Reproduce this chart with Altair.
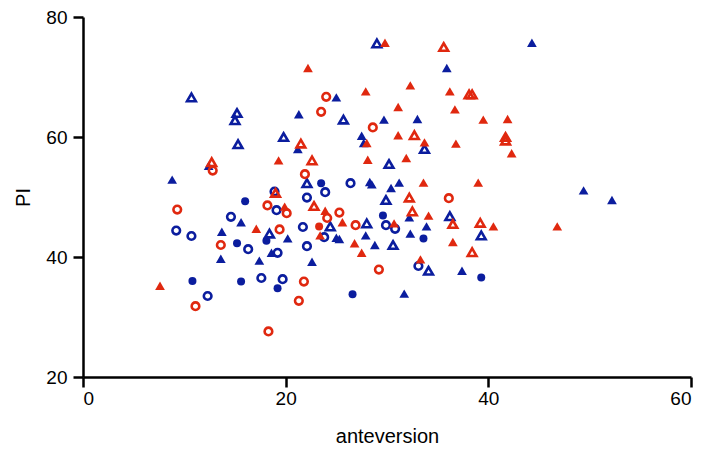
import altair as alt
import pandas as pd

# ---- data (anteversion, PI) ----
blue_filled_circle_x = [16.0, 23.5, 29.6, 15.2, 18.1, 10.8, 15.6, 19.2, 26.6, 33.6, 39.3]
blue_filled_circle_y = [49.3, 52.3, 46.9, 42.3, 42.7, 36.0, 35.9, 34.8, 33.8, 43.1, 36.6]

blue_open_circle_x = [9.2, 10.7, 14.6, 12.3, 18.9, 22.1, 23.9, 26.4, 19.1, 21.7, 23.8, 29.9, 30.8,
                      22.1, 19.2, 16.3, 17.6, 19.7, 33.1]
blue_open_circle_y = [44.4, 43.5, 46.7, 33.5, 50.9, 49.9, 50.8, 52.3, 47.8, 45.0, 43.3, 45.3, 44.7,
                      41.8, 40.7, 41.3, 36.5, 36.3, 38.5]

blue_filled_tri_x = [8.8, 12.4, 21.3, 25.0, 29.7, 27.5, 27.7, 21.2, 28.3, 28.5, 30.4, 35.9, 44.3,
                     33.0, 31.2, 49.4, 52.2, 13.7, 13.6, 25.0, 25.3, 27.9, 28.8, 22.6, 20.2, 18.6,
                     15.6, 17.4, 32.2, 33.9, 32.3, 37.4, 31.7]
blue_filled_tri_y = [52.9, 55.2, 63.8, 66.6, 62.9, 60.2, 59.0, 58.0, 52.5, 52.1, 51.5, 71.5, 75.7,
                     63.0, 52.4, 51.1, 49.5, 44.2, 39.7, 43.2, 43.0, 43.6, 42.0, 39.2, 43.1, 40.7,
                     45.8, 39.4, 46.6, 45.1, 43.9, 37.7, 33.9]

blue_open_tri_x = [10.7, 15.2, 15.0, 15.3, 29.0, 25.7, 19.8, 30.2, 22.1, 29.9, 33.7, 24.4, 28.0,
                   30.6, 18.4, 36.2, 39.3, 34.1]
blue_open_tri_y = [66.6, 64.0, 62.8, 58.8, 75.6, 62.9, 60.0, 55.5, 52.3, 49.5, 58.0, 45.1, 45.6,
                   42.0, 43.9, 46.8, 43.6, 37.7]

red_filled_circle_x = [23.3]
red_filled_circle_y = [45.1]

red_open_circle_x = [12.8, 24.0, 23.5, 28.6, 21.9, 18.2, 36.1, 9.3, 13.6, 11.1, 20.1, 25.3, 24.1,
                     26.9, 19.4, 21.8, 21.3, 29.2, 18.3]
red_open_circle_y = [54.4, 66.7, 64.2, 61.6, 53.8, 48.6, 49.8, 47.9, 42.0, 31.8, 47.3, 47.4, 46.5,
                     45.3, 44.6, 35.9, 32.7, 37.9, 27.6]

red_filled_tri_x = [29.8, 22.2, 27.9, 28.0, 19.3, 28.1, 32.3, 36.2, 31.1, 36.7, 39.5, 41.9, 31.1,
                    33.7, 36.8, 42.3, 31.9, 33.6, 39.0, 7.6, 19.9, 23.9, 25.6, 23.4, 30.7, 26.8,
                    27.5, 17.1, 34.1, 33.3, 40.5, 46.8, 36.5]
red_filled_tri_y = [75.7, 71.5, 67.6, 59.0, 56.1, 56.2, 68.6, 67.6, 65.0, 64.6, 62.9, 63.0, 60.3,
                    59.1, 58.9, 57.3, 56.5, 52.4, 52.4, 35.2, 48.4, 47.7, 45.8, 43.6, 45.6, 42.3,
                    40.7, 44.7, 46.9, 39.6, 45.1, 45.1, 42.5]

red_open_tri_x = [12.7, 21.5, 22.6, 19.0, 35.6, 38.1, 38.4, 32.7, 41.7, 41.7, 32.2, 22.8, 32.5,
                  36.5, 39.2, 38.4]
red_open_tri_y = [55.8, 58.9, 56.1, 50.7, 75.0, 67.1, 67.1, 60.3, 60.0, 59.4, 49.9, 48.5, 47.6,
                  45.5, 45.7, 40.8]

x_ticks = [0, 20, 40, 60]
y_ticks = [20, 40, 60, 80]

BLUE = "#0b1d9e"
RED = "#e0280f"

groups = [
    (blue_filled_circle_x, blue_filled_circle_y, BLUE, "circle", True),
    (blue_open_circle_x, blue_open_circle_y, BLUE, "circle", False),
    (blue_filled_tri_x, blue_filled_tri_y, BLUE, "triangle-up", True),
    (blue_open_tri_x, blue_open_tri_y, BLUE, "triangle-up", False),
    (red_filled_circle_x, red_filled_circle_y, RED, "circle", True),
    (red_open_circle_x, red_open_circle_y, RED, "circle", False),
    (red_filled_tri_x, red_filled_tri_y, RED, "triangle-up", True),
    (red_open_tri_x, red_open_tri_y, RED, "triangle-up", False),
]

xs = alt.Scale(domain=[0, 60], nice=False, zero=False)
ys = alt.Scale(domain=[20, 80], nice=False, zero=False)
x_axis = alt.Axis(values=x_ticks, title="anteversion", labelPadding=2, titlePadding=18)
y_axis = alt.Axis(values=y_ticks, title="PI", labelPadding=6, titlePadding=12)

layers = []
for gx, gy, col, shp, filled in groups:
    df = pd.DataFrame({"anteversion": gx, "PI": gy})
    if shp == "circle":
        size = 64 if filled else 58
    else:
        size = 95 if filled else 76
    if filled:
        mk = dict(shape=shp, filled=True, color=col, size=size, opacity=1)
    else:
        mk = dict(shape=shp, filled=False, color=col, size=size, strokeWidth=2.6, opacity=1)
    layers.append(
        alt.Chart(df).mark_point(**mk).encode(
            x=alt.X("anteversion:Q", scale=xs, axis=x_axis),
            y=alt.Y("PI:Q", scale=ys, axis=y_axis),
        )
    )

chart = alt.layer(*layers).properties(
    width=608,
    height=360,
    padding={"left": 75, "top": 9, "right": 10, "bottom": 70},
    autosize=alt.AutoSizeParams(type="none"),
).configure_view(
    strokeWidth=0
).configure_axis(
    grid=False,
    domainColor="black",
    domainWidth=2.5,
    tickColor="black",
    tickWidth=2.5,
    tickSize=10,
    labelFont="Liberation Sans",
    labelFontSize=19,
    labelColor="black",
    titleFont="Liberation Sans",
    titleFontSize=20,
    titleFontWeight="normal",
    titleColor="black",
)

chart.save("out.html", embed_options={"renderer": "svg", "actions": False})
